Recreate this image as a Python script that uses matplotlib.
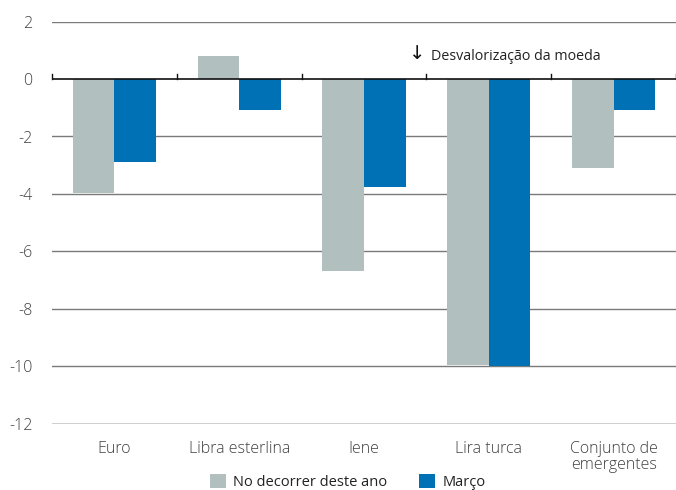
import matplotlib.pyplot as plt
import numpy as np

categories = ["Euro", "Libra esterlina", "Iene", "Lira turca", "Conjunto de\nemergentes"]
ytd_values = [-3.96, 0.80, -6.67, -9.95, -3.09]
march_values = [-2.88, -1.08, -3.77, -10.0, -1.08]
series_labels = ["No decorrer deste ano", "Março"]
y_ticks = [2, 0, -2, -4, -6, -8, -10, -12]

GREY = "#b2bfbf"
BLUE = "#0071b5"
TEXT = "#404040"

plt.rcParams["font.family"] = ["Open Sans", "DejaVu Sans"]

fig = plt.figure(figsize=(6.76, 4.90), dpi=100)
ax = fig.add_axes([0.077, 0.135, 0.923, 0.821])

x = np.arange(len(categories))
w = 0.333
ax.bar(x - w / 2, ytd_values, w, color=GREY, zorder=3, label=series_labels[0])
ax.bar(x + w / 2, march_values, w, color=BLUE, zorder=3, label=series_labels[1])

ax.set_xlim(-0.5, len(categories) - 0.5)
ax.set_ylim(-12, 2)
ax.set_yticks(y_ticks)
ax.set_yticklabels([str(v) for v in y_ticks])

# horizontal gridlines
for v in y_ticks:
    if v == 0:
        continue
    ax.axhline(v, color="#111111" if v == -12 else "#7a7a7a", lw=1.0, zorder=1)
ax.axhline(0, color="#111111", lw=1.2, zorder=4)

# small upward ticks on the zero line between categories
for b in np.arange(-0.5, len(categories), 1.0):
    ax.plot([b, b], [0, 0.17], color="#111111", lw=1.0, zorder=4, clip_on=False)

for s in ax.spines.values():
    s.set_visible(False)

ax.set_xticks(x)
ax.set_xticklabels(categories, fontsize=11.5, color=TEXT, linespacing=1.05,
                   fontweight="light")
ax.tick_params(axis="x", length=0, pad=12)
ax.tick_params(axis="y", length=0, pad=14, labelsize=11.5, labelcolor=TEXT)
for lbl in ax.get_yticklabels():
    lbl.set_fontweight("light")

ax.annotate("↓", xy=(2.43, 0.9), fontsize=14, color="#111111",
            ha="center", va="center", family="DejaVu Sans")
ax.text(2.54, 0.78, "Desvalorização da moeda", fontsize=10.3, color="#222222",
        ha="left", va="center")

ax.legend(loc="upper center", bbox_to_anchor=(0.474, -0.091), ncol=2, frameon=False,
          fontsize=10.5, handlelength=1.1, handleheight=1.1, columnspacing=2.2,
          handletextpad=0.5, labelcolor="#222222")

fig.savefig("out.png", dpi=100)
